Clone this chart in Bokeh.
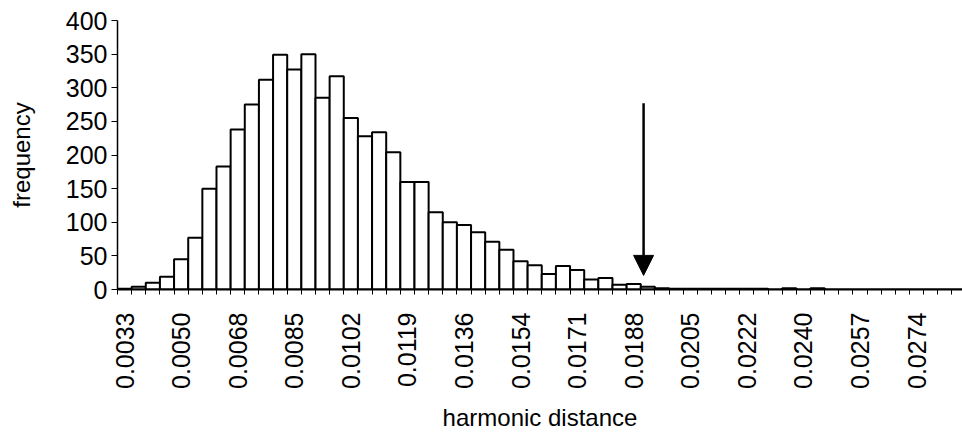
import math
from bokeh.plotting import figure
from bokeh.models import Range1d, FixedTicker, Arrow, NormalHead
from bokeh.embed import file_html
from bokeh.resources import INLINE

# Histogram of harmonic distances: one count per bin, 60 bins
counts = [1, 4, 10, 19, 45, 77, 150, 183, 238, 275,
          312, 349, 327, 350, 285, 317, 255, 228, 234, 204,
          160, 160, 115, 100, 96, 85, 71, 59, 42, 36,
          23, 35, 29, 15, 17, 7, 8, 4, 2, 1,
          1, 1, 1, 1, 1, 1, 0, 2, 0, 2,
          0, 0, 0, 0, 0, 0, 0, 0, 0, 0]

# Every fourth bin carries its lower bound as a label
label_bins = [0, 4, 8, 12, 16, 20, 24, 28, 32, 36, 40, 44, 48, 52, 56]
tick_labels = ["0.0033", "0.0050", "0.0068", "0.0085", "0.0102",
               "0.0119", "0.0136", "0.0154", "0.0171", "0.0188",
               "0.0205", "0.0222", "0.0240", "0.0257", "0.0274"]

freq_ticks = [0, 50, 100, 150, 200, 250, 300, 350, 400]

# Observed value marked with an arrow (bin units, frequency units)
marker_bin = 37.2
marker_top = 277
marker_tip = 21

FONT = "Liberation Sans"

n_bins = len(counts)
centers = [i + 0.5 for i in range(n_bins)]

p = figure(width=962, height=437, output_backend="svg", toolbar_location=None,
           x_range=Range1d(0, 59.75), y_range=Range1d(0, 400),
           min_border_left=117, min_border_right=0,
           min_border_top=20, min_border_bottom=148)
p.outline_line_color = None
p.xgrid.visible = False
p.ygrid.visible = False
p.background_fill_color = "white"
p.border_fill_color = "white"

p.vbar(x=centers, top=counts, width=1.0, bottom=0,
       fill_color="white", line_color="black", line_width=2)

# x axis: ticks at bin edges, labels at bin centres
xa = p.xaxis[0]
xa.ticker = FixedTicker(ticks=[b + 0.5 for b in label_bins],
                        minor_ticks=list(range(n_bins + 1)))
xa.major_label_overrides = {b + 0.5: t for b, t in zip(label_bins, tick_labels)}
xa.major_label_orientation = math.pi / 2
xa.major_tick_out = 0
xa.major_tick_in = 0
xa.minor_tick_out = 5
xa.minor_tick_in = 0
xa.minor_tick_line_color = "black"
xa.minor_tick_line_width = 1
xa.axis_line_width = 2
xa.axis_line_color = "black"
xa.major_label_standoff = 18
xa.major_label_text_font = FONT
xa.major_label_text_font_size = "25px"
xa.major_label_text_color = "black"
xa.axis_label = "harmonic distance"
xa.axis_label_text_font = FONT
xa.axis_label_text_font_size = "24px"
xa.axis_label_text_font_style = "normal"
xa.axis_label_text_color = "black"
xa.axis_label_standoff = 12

ya = p.yaxis[0]
ya.ticker = FixedTicker(ticks=freq_ticks)
ya.major_tick_out = 6
ya.major_tick_in = 0
ya.minor_tick_out = 0
ya.minor_tick_in = 0
ya.axis_line_width = 1.5
ya.axis_line_color = "black"
ya.major_label_standoff = 4
ya.major_label_text_font = FONT
ya.major_label_text_font_size = "25px"
ya.major_label_text_color = "black"
ya.axis_label = "frequency"
ya.axis_label_text_font = FONT
ya.axis_label_text_font_size = "24px"
ya.axis_label_text_font_style = "normal"
ya.axis_label_text_color = "black"
ya.axis_label_standoff = 28

p.add_layout(Arrow(end=NormalHead(size=20, fill_color="black", line_color="black", line_width=1),
                   x_start=marker_bin, y_start=marker_top,
                   x_end=marker_bin, y_end=marker_tip,
                   line_color="black", line_width=2.5))

open("out.html", "w").write(file_html(p, INLINE))
